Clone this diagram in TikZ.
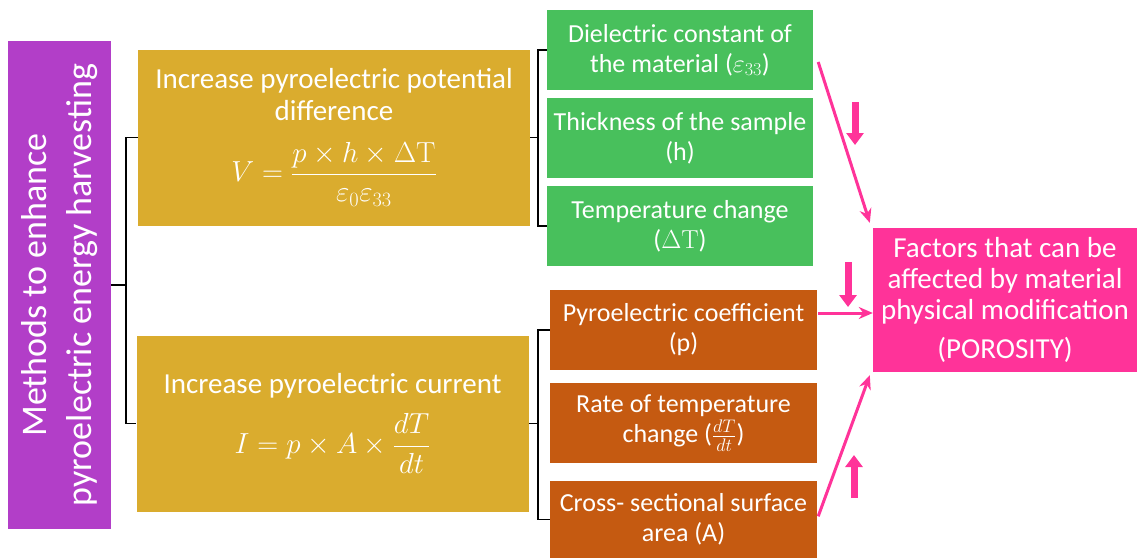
\documentclass[tikz,border=0pt]{standalone}
\usepackage{fix-cm}
\usepackage{amsmath}
\usepackage[no-math]{fontspec}
\setmainfont{Carlito}
\usetikzlibrary{arrows.meta,calc,positioning}
\definecolor{PyroPurple}{HTML}{B23EC8}
\definecolor{PyroGold}{HTML}{DAAC2E}
\definecolor{PyroGreen}{HTML}{48C05C}
\definecolor{PyroOrange}{HTML}{C55A11}
\definecolor{PyroPink}{HTML}{FF3399}
\tikzset{
  every node/.style={text=white, align=center, inner sep=0pt},
  methodbox/.style={fill=PyroPurple, font=\fontsize{36}{45}\selectfont, minimum width=488pt, minimum height=103pt},
  goalbox/.style={fill=PyroGold, font=\fontsize{29}{32}\selectfont, minimum width=392pt, minimum height=176pt},
  greenbox/.style={fill=PyroGreen, font=\fontsize{26}{30}\selectfont, minimum width=266pt, minimum height=80pt},
  orangebox/.style={fill=PyroOrange, font=\fontsize{26}{30}\selectfont, minimum width=267pt, minimum height=80pt},
  factorbox/.style={fill=PyroPink, font=\fontsize{29}{31}\selectfont, minimum width=264pt, minimum height=144pt},
  bracket/.style={draw=black, line width=1.6pt},
  link/.style={-{Stealth[length=14pt,width=12pt]}, draw=PyroPink, line width=3pt},
  hint/.style={-{Triangle[length=12pt,width=17pt]}, draw=PyroPink, line width=7pt},
}

\begin{document}
\begin{tikzpicture}[x=1pt,y=-1pt]
  \fill[white] (0,0) rectangle (1137,557);
  \useasboundingbox (0,0) rectangle (1137,557);
  % Left column (rotated, so its south side faces right)
  \node[methodbox, rotate=90] (methods) at (59.5,285) {Methods to enhance\\pyroelectric energy harvesting};
  % The two ways
  \node[goalbox] (potential) at (334,137.5) {Increase pyroelectric potential\\difference\\[20pt]
    $V=\dfrac{p\times h\times\Delta\mathrm{T}}{\varepsilon_0\varepsilon_{33}}$};
  \node[goalbox] (current) at (332.5,423.5) {Increase pyroelectric current\\[14pt]
    $I=p\times A\times\dfrac{dT}{dt}$};
  % Factors of the potential difference
  \node[greenbox] (dielectric) at (680,50) {Dielectric constant of\\the material ($\varepsilon_{33}$)};
  \node[greenbox, below=8pt of dielectric] (thickness) {Thickness of the sample\\(h)};
  \node[greenbox, below=7pt of thickness] (tempchange) {Temperature change\\($\Delta\mathrm{T}$)};
  % Factors of the current
  \node[orangebox] (pyrocoef) at (683.5,330) {Pyroelectric coefficient\\(p)};
  \node[orangebox, below=13pt of pyrocoef] (rate) {Rate of temperature\\change ($\frac{dT}{dt}$)};
  \node[orangebox, below=17pt of rate, minimum height=77pt] (area) {Cross- sectional surface\\area (A)};
  % Target
  \node[factorbox] (factors) at (1005,300) {Factors that can be\\affected by material\\physical modification\\[8pt](POROSITY)};
  % Brackets
  \coordinate (lspine) at ($(potential.west)+(-12,0)$);
  \draw[bracket] (potential.west) -- (lspine) |- (current.west);
  \draw[bracket] (methods.south) -- (methods.south -| lspine);
  \coordinate (gspine) at ($(dielectric.west)+(-9,0)$);
  \draw[bracket] (dielectric.west) -- (gspine) |- (tempchange.west);
  \draw[bracket] (potential.east) -- (potential.east -| gspine);
  \coordinate (ospine) at ($(pyrocoef.west)+(-12,0)$);
  \draw[bracket] (pyrocoef.west) -- (ospine) |- (area.west);
  \draw[bracket] (current.east) -- (current.east -| ospine);
  % Links to the target
  \draw[link] ([xshift=5pt,yshift=-12pt]dielectric.east) -- ([xshift=-3pt,yshift=5pt]factors.north west);
  \draw[link] ([xshift=1pt,yshift=17pt]pyrocoef.east) -- ([yshift=17pt]pyrocoef.east -| factors.west);
  \draw[link] ([xshift=1pt,yshift=3pt]area.east) -- ([xshift=-3pt,yshift=-3pt]factors.south west);
  % Increase / decrease marks
  \draw[hint] (855,102) -- (855,145);
  \draw[hint] (848,262) -- (848,307);
  \draw[hint] (854,498) -- (854,455);
\end{tikzpicture}
\end{document}
